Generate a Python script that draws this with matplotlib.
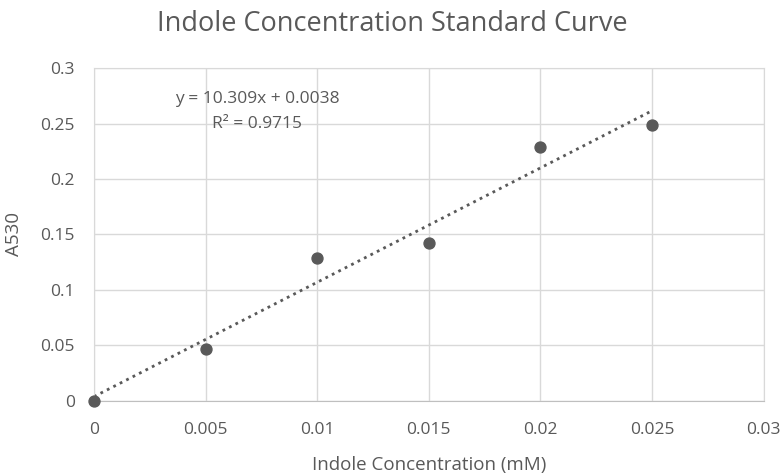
import numpy as np
import matplotlib
matplotlib.use("Agg")
import matplotlib.pyplot as plt

plt.rcParams["font.family"] = ["Open Sans", "DejaVu Sans"]

conc = [0, 0.005, 0.01, 0.015, 0.02, 0.025]
a530 = [0, 0.047, 0.129, 0.142, 0.229, 0.249]
x_ticks = [0, 0.005, 0.01, 0.015, 0.02, 0.025, 0.03]
x_labels = ["0", "0.005", "0.01", "0.015", "0.02", "0.025", "0.03"]
y_ticks = [0, 0.05, 0.1, 0.15, 0.2, 0.25, 0.3]
y_labels = ["0", "0.05", "0.1", "0.15", "0.2", "0.25", "0.3"]

txt = "#595959"
grid = "#d9d9d9"

# linear trendline like Excel
slope, intercept = np.polyfit(conc, a530, 1)
pred = slope * np.array(conc) + intercept
ss_res = np.sum((np.array(a530) - pred) ** 2)
ss_tot = np.sum((np.array(a530) - np.mean(a530)) ** 2)
r2 = 1 - ss_res / ss_tot

fig = plt.figure(figsize=(7.84, 4.76), dpi=100)
ax = fig.add_axes([0.120, 0.158, 0.854, 0.699])

xl = np.array([conc[0], conc[-1]])
ax.plot(xl, slope * xl + intercept, color="#595959", linestyle=(0, (1, 1.6)),
        linewidth=2, zorder=2)
ax.scatter(conc, a530, s=62, color="#595959", zorder=3, clip_on=False)

ax.set_xlim(0, 0.03)
ax.set_ylim(0, 0.3)
ax.set_xticks(x_ticks)
ax.set_xticklabels(x_labels)
ax.set_yticks(y_ticks)
ax.set_yticklabels(y_labels)
ax.grid(True, color=grid, linewidth=1)
ax.set_axisbelow(True)
ax.tick_params(length=0, labelsize=12.5, colors=txt)
ax.tick_params(axis="x", pad=15)
ax.tick_params(axis="y", pad=14)
for side in ["top", "right", "left"]:
    ax.spines[side].set_color(grid)
ax.spines["bottom"].set_color("#bfbfbf")

ax.set_xlabel("Indole Concentration (mM)", fontsize=13.5, color=txt, labelpad=13)
ax.set_ylabel("A530", fontsize=13.5, color=txt, labelpad=12)
fig.suptitle("Indole Concentration Standard Curve", fontsize=19.5, color=txt, y=0.978)

ax.text(0.0073, 0.261, f"y = {slope:.3f}x + {intercept:.4f}\nR² = {r2:.4f}",
        ha="center", va="center", fontsize=12.5, color=txt, linespacing=1.75)

fig.savefig("out.png", dpi=100)
